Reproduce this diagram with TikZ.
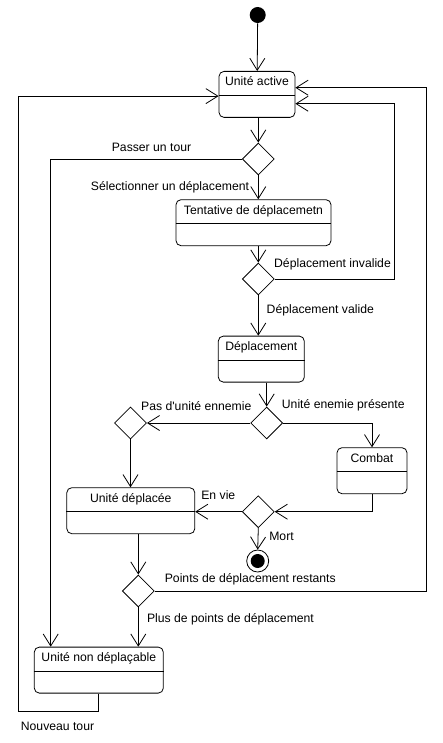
\documentclass[tikz,border=0pt]{standalone}
\usepackage{fontspec}
\setmainfont{Liberation Sans}[Ligatures=TeXOff]
\usetikzlibrary{positioning,shapes.geometric,arrows.meta}

\begin{document}
\begin{tikzpicture}[x=1pt,y=-1pt,line width=0.8pt,font=\fontsize{12.2}{14}\selectfont,
  etat/.style={draw,rectangle,rounded corners=5pt,inner sep=0pt,anchor=north,minimum height=46pt,text height=14.5pt,text depth=31.5pt},
  choix/.style={draw,diamond,inner sep=0pt,minimum width=32pt,minimum height=32pt},
  fleche/.style={-{Straight Barb[length=12pt,width=15pt]}}]
\useasboundingbox (0,0) rectangle (443,743);
% states
\node[circle,fill,inner sep=0pt,minimum size=16pt] (start) at (257.7,15) {};
\node[etat,minimum width=76pt] (active) at (257,71) {Unité active};
\node[choix] (tour) at (258.3,159) {};
\node[etat,minimum width=155pt] (essai) at (253.5,199.3) {Tentative de déplacemetn};
\node[choix] (valid) at (258.3,279) {};
\node[etat,minimum width=86pt] (depl) at (261.3,335.7) {Déplacement};
\node[choix] (ennemi) at (266.7,423) {};
\node[choix] (libre) at (130.5,423) {};
\node[etat,minimum width=70pt] (combat) at (372,447.3) {Combat};
\node[choix] (vie) at (258.3,511.7) {};
\node[etat,minimum width=128pt] (moved) at (130.8,487.3) {Unité déplacée};
\node[circle,draw,inner sep=0pt,minimum size=22pt] (fin) at (257.7,561) {};
\fill (fin) circle (7pt);
\node[choix] (points) at (138.3,591) {};
\node[etat,minimum width=129pt] (stuck) at (98.8,646.7) {Unité non déplaçable};
\foreach \n in {active,essai,depl,combat,moved,stuck}
  \draw ([yshift=-24.3pt]\n.north west) -- ([yshift=-24.3pt]\n.north east);
% rails
\coordinate (skip) at (50.7,0);
\coordinate (back) at (394.3,0);
\coordinate (far) at (426.7,0);
\coordinate (left) at (18.3,711);
% transitions
\draw[fleche] (start) -- (active);
\draw[fleche] (active.south -| tour) -- (tour.north);
\draw[fleche] (tour.west) -| (skip |- stuck.north);
\draw[fleche] (tour.south) -- (tour.south |- essai.north);
\draw[fleche] (essai.south -| valid) -- (valid.north);
\draw[fleche] (valid.east) -| ([yshift=-9.3pt]active.east -| back) -- ([yshift=-9.3pt]active.east);
\draw[fleche] (valid.south) -- (valid.south |- depl.north);
\draw[fleche] (depl.south -| ennemi) -- (ennemi.north);
\draw[fleche] (ennemi.west) -- (libre.east);
\draw[fleche] (ennemi.east) -| (combat.north);
\draw[fleche] (libre.south) -- (libre.south |- moved.north);
\draw[fleche] (combat.south) |- (vie.east);
\draw[fleche] (vie.west) -- (vie.west -| moved.east);
\draw[fleche] (vie.south) -- (fin.north);
\draw[fleche] (moved.south -| points) -- (points.north);
\draw[fleche] (points.east) -| ([yshift=6.7pt]active.east -| far) -- ([yshift=6.7pt]active.east);
\draw[fleche] (points.south) -- (points.south |- stuck.north);
\draw[fleche] (stuck.south) |- (left) -- ([yshift=-1.7pt]left |- active.west) -- ([yshift=-1.7pt]active.west);
% guards
\node (gTour) at (151.5,147) {Passer un tour};
\node (gSel) at (170,187) {Sélectionner un déplacement};
\node (gInv) at (332.5,264) {Déplacement invalide};
\node (gVal) at (320.3,310) {Déplacement valide};
\node (gEnn) at (343.3,405.7) {Unité enemie présente};
\node (gPas) at (196.3,405.7) {Pas d'unité ennemie};
\node (gVie) at (218.3,495) {En vie};
\node (gMort) at (281.5,536.7) {Mort};
\node (gRest) at (250.3,579.3) {Points de déplacement restants};
\node (gPlus) at (230.5,619.3) {Plus de points de déplacement};
\node (gNouv) at (57.5,726) {Nouveau tour};
\end{tikzpicture}
\end{document}
